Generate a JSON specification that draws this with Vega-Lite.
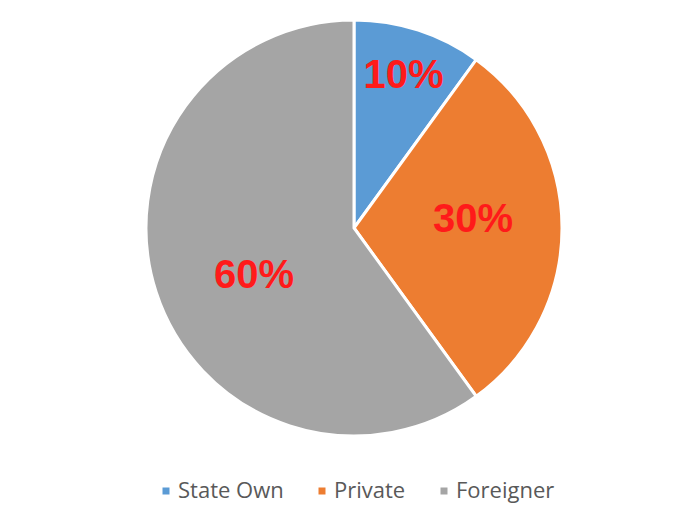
{
  "$schema": "https://vega.github.io/schema/vega-lite/v6.json",
  "width": 708,
  "height": 456,
  "autosize": {"type": "none"},
  "padding": {"left": 0, "top": 0, "right": 0, "bottom": 65},
  "background": "white",
  "data": {"values": [
    {"owner": "State Own", "share": 10, "label": "10%", "rank": 1},
    {"owner": "Private", "share": 30, "label": "30%", "rank": 2},
    {"owner": "Foreigner", "share": 60, "label": "60%", "rank": 3}
  ]},
  "encoding": {
    "theta": {"field": "share", "type": "quantitative", "stack": true},
    "order": {"field": "rank", "type": "quantitative"}
  },
  "layer": [
    {
      "mark": {"type": "arc", "radius": 208, "stroke": "white", "strokeWidth": 3},
      "encoding": {
        "color": {
          "field": "owner", "type": "nominal",
          "scale": {"domain": ["State Own", "Private", "Foreigner"], "range": ["#5B9BD5", "#ED7D31", "#A5A5A5"]},
          "legend": {
            "title": null, "orient": "none", "direction": "horizontal",
            "legendX": 155, "legendY": 480,
            "symbolType": "square", "symbolSize": 49, "symbolStrokeWidth": 0,
            "labelFont": "Open Sans", "labelFontSize": 22, "labelColor": "#595959",
            "labelOffset": 1, "columnPadding": 27
          }
        }
      }
    },
    {
      "mark": {"type": "text", "radius": 160, "font": "Liberation Sans", "fontWeight": "bold", "fontSize": 40, "fill": "#FF1A1A", "baseline": "middle", "align": "center"},
      "encoding": {"text": {"condition": {"test": "datum.owner === 'State Own'", "field": "label"}, "value": ""}}
    },
    {
      "mark": {"type": "text", "radius": 119, "dy": -8, "font": "Liberation Sans", "fontWeight": "bold", "fontSize": 40, "fill": "#FF1A1A", "baseline": "middle", "align": "center"},
      "encoding": {"text": {"condition": {"test": "datum.owner === 'Private'", "field": "label"}, "value": ""}}
    },
    {
      "mark": {"type": "text", "radius": 105, "dy": 16, "font": "Liberation Sans", "fontWeight": "bold", "fontSize": 40, "fill": "#FF1A1A", "baseline": "middle", "align": "center"},
      "encoding": {"text": {"condition": {"test": "datum.owner === 'Foreigner'", "field": "label"}, "value": ""}}
    }
  ]
}
